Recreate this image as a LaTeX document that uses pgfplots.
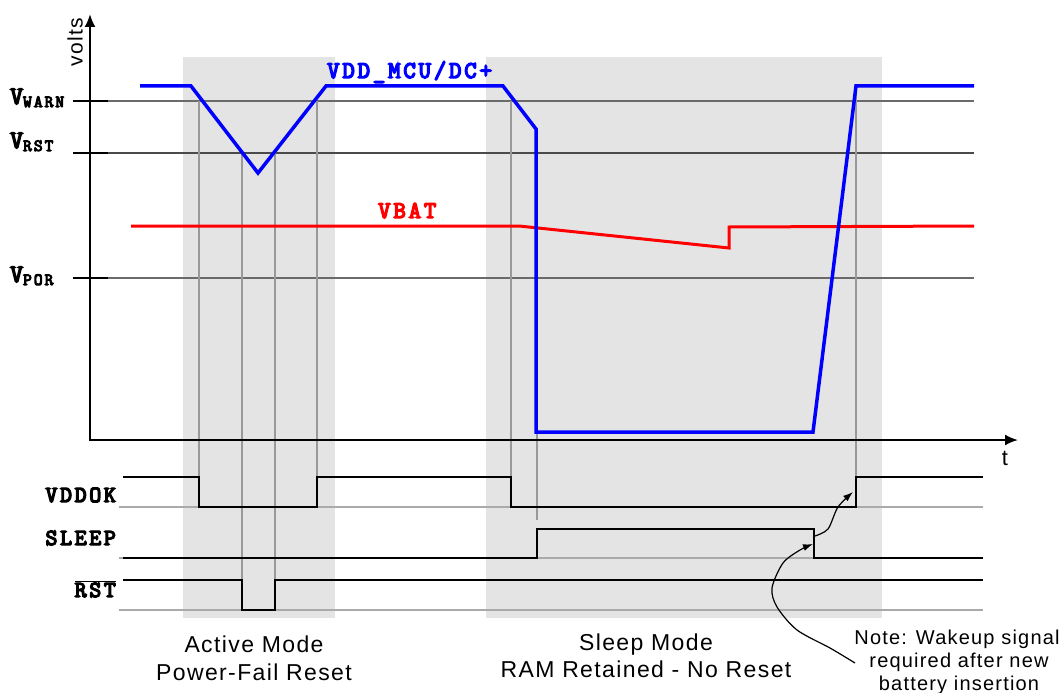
\documentclass[border=0pt]{standalone}
\usepackage{pgfplots}
\pgfplotsset{compat=1.18}
\usepackage{fontspec}
\usetikzlibrary{arrows.meta}
\setmainfont{Liberation Sans}[LetterSpace=6]
\newfontfamily\cour{Latin Modern Mono}[FakeBold=6, LetterSpace=12]
\definecolor{boxgray}{HTML}{E4E4E4}
\definecolor{refgray}{HTML}{6A6A6A}
\definecolor{vgray}{HTML}{999999}
\definecolor{bgray}{HTML}{AAAAAA}
\begin{document}
\begin{tikzpicture}
\begin{axis}[
  x=1pt, y=1pt, xmin=0, xmax=1061, ymin=0, ymax=693,
  y dir=reverse, hide axis, clip=false, scale only axis,
]
% gray mode boxes
\addplot[fill=boxgray, draw=none] coordinates {(183,57) (335,57) (335,618) (183,618)} -- cycle;
\addplot[fill=boxgray, draw=none] coordinates {(486,57) (882,57) (882,618) (486,618)} -- cycle;
% reference voltage lines
\addplot[refgray, line width=1.2pt] coordinates {(108,101) (974,101)};
\addplot[refgray!70!black, line width=1.2pt] coordinates {(108,153) (974,153)};
\addplot[refgray, line width=1.2pt] coordinates {(108,278) (974,278)};
% tick marks
\addplot[black, line width=2pt] coordinates {(73,101) (108,101)};
\addplot[black, line width=2pt] coordinates {(73,153) (108,153)};
\addplot[black, line width=2pt] coordinates {(73,278) (108,278)};
% vertical guide lines
\addplot[vgray, line width=1.2pt] coordinates {(199,101) (199,507)};
\addplot[vgray, line width=1.2pt] coordinates {(317,101) (317,507)};
\addplot[vgray, line width=1.2pt] coordinates {(242,153) (242,610)};
\addplot[vgray, line width=1.2pt] coordinates {(275,153) (275,610)};
\addplot[vgray, line width=1.2pt] coordinates {(511,101) (511,507)};
\addplot[vgray, line width=1.2pt] coordinates {(537,278) (537,520)};
\addplot[vgray, line width=1.2pt] coordinates {(856,86) (856,477)};
% signal baselines
\addplot[bgray, line width=1.2pt] coordinates {(119,507) (983,507)};
\addplot[bgray, line width=1.2pt] coordinates {(119,558) (983,558)};
\addplot[bgray, line width=1.2pt] coordinates {(119,610) (983,610)};
% digital signals
\addplot[black, line width=2pt] coordinates {(123,477) (199,477) (199,507) (317,507) (317,477) (511,477) (511,507) (856,507) (856,477) (983,477)};
\addplot[black, line width=2pt] coordinates {(123,558) (537,558) (537,529) (814,529) (814,558) (983,558)};
\addplot[black, line width=2pt] coordinates {(123,580) (242,580) (242,610) (275,610) (275,580) (983,580)};
% axes
\addplot[black, line width=2pt, -{Latex[length=13pt,width=11pt]}] coordinates {(90,441) (90,14)};
\addplot[black, line width=2pt, -{Latex[length=13pt,width=11pt]}] coordinates {(89,440) (1018,440)};
% VBAT
\addplot[red, line width=3pt] coordinates {(131,226) (519,226) (729,248) (729,227) (974,226)};
% VDD_MCU
\addplot[blue, line width=3.5pt, line join=miter] coordinates {(140,86) (191,86) (258,173) (326,86) (503,86) (536,129) (536,432) (813,432) (856,86) (974,86)};
% annotation arrows
\addplot[black, line width=1.2pt, smooth, -{Latex[length=10pt,width=7pt]}] coordinates {(855,663) (830,648) (797,630) (777,607) (772,588) (783,563) (800,550) (813,544)};
\addplot[black, line width=1.2pt, smooth, -{Latex[length=10pt,width=7pt]}] coordinates {(815,536) (828,529) (838,507) (853,492)};
% labels
\node[anchor=base west, inner sep=0] at (axis cs:10,104) {\cour\fontsize{25}{25}\selectfont V\fontsize{17}{17}\selectfont\raisebox{-3pt}{WARN}};
\node[anchor=base west, inner sep=0] at (axis cs:10,148) {\cour\fontsize{25}{25}\selectfont V\fontsize{17}{17}\selectfont\raisebox{-3pt}{RST}};
\node[anchor=base west, inner sep=0] at (axis cs:10,282) {\cour\fontsize{25}{25}\selectfont V\fontsize{17}{17}\selectfont\raisebox{-3pt}{POR}};
\node[rotate=90, inner sep=0] at (axis cs:75,42) {\fontsize{21}{21}\selectfont volts};
\node[inner sep=0] at (axis cs:1005,458) {\fontsize{22}{22}\selectfont t};
\node[anchor=base west, inner sep=0, text=blue] at (axis cs:327,78) {\cour\fontsize{24}{24}\selectfont VDD\_MCU/DC+};
\node[anchor=base west, inner sep=0, text=red] at (axis cs:378,218) {\cour\fontsize{24}{24}\selectfont VBAT};
\node[anchor=base east, inner sep=0] at (axis cs:116,502) {\cour\fontsize{23}{23}\selectfont VDDOK};
\node[anchor=base east, inner sep=0] at (axis cs:116,545) {\cour\fontsize{23}{23}\selectfont SLEEP};
\node[anchor=base east, inner sep=0] at (axis cs:116,597) {\cour\fontsize{23}{23}\selectfont$\overline{\mbox{RST}}$};
\node[anchor=base, inner sep=0] at (axis cs:254,652) {\fontsize{23}{23}\selectfont Active Mode};
\node[anchor=base, inner sep=0] at (axis cs:254,680) {\fontsize{23}{23}\selectfont Power-Fail Reset};
\node[anchor=base, inner sep=0] at (axis cs:646,650) {\fontsize{23}{23}\selectfont Sleep Mode};
\node[anchor=base, inner sep=0] at (axis cs:646,677) {\fontsize{23}{23}\selectfont RAM Retained - No Reset};
\node[anchor=base, inner sep=0] at (axis cs:957,644) {\fontsize{20}{20}\selectfont Note: Wakeup signal};
\node[anchor=base, inner sep=0] at (axis cs:959,667) {\fontsize{20}{20}\selectfont required after new};
\node[anchor=base, inner sep=0] at (axis cs:959,690) {\fontsize{20}{20}\selectfont battery insertion};
\end{axis}
\pgfresetboundingbox
\path[use as bounding box] (current axis.south west) rectangle (current axis.north east);
\end{tikzpicture}
\end{document}
